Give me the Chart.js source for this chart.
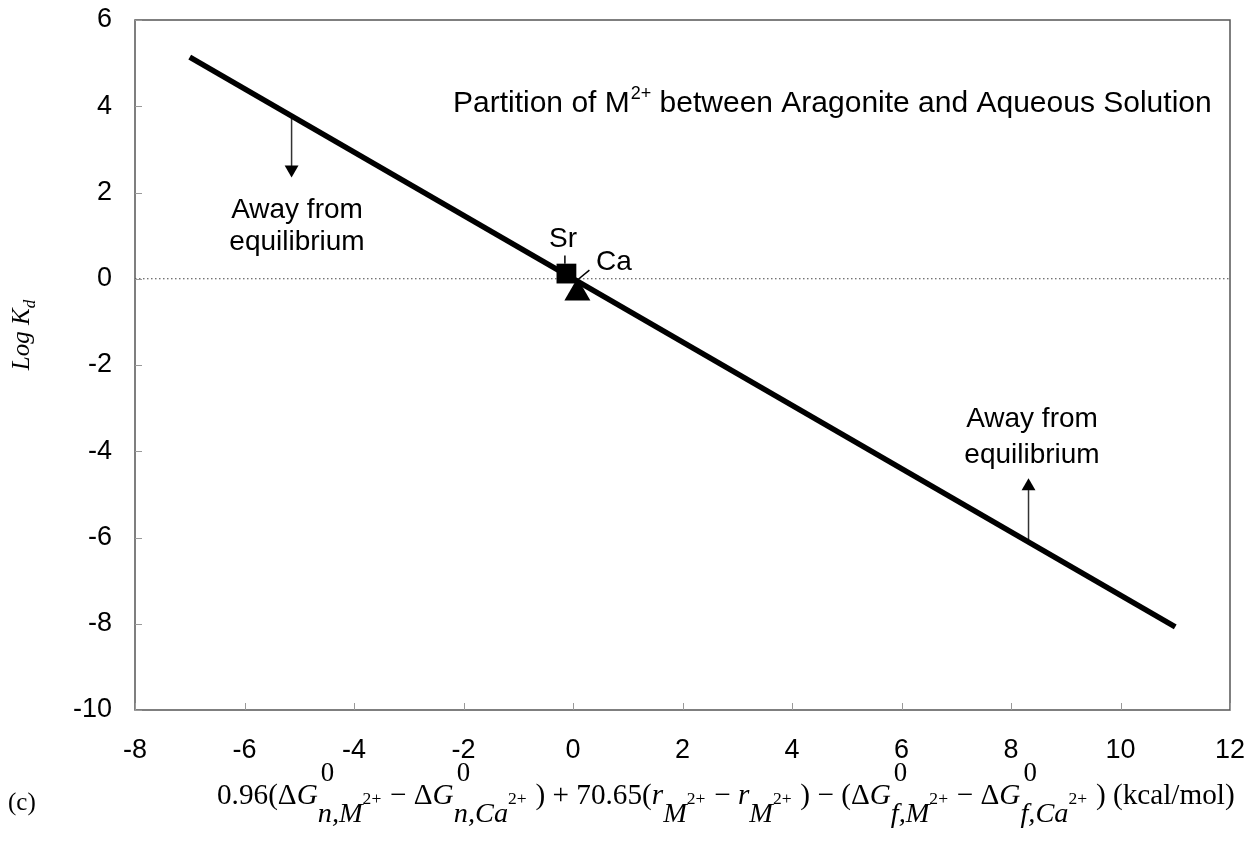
<!DOCTYPE html>
<html><head><meta charset="utf-8">
<script src="https://cdn.jsdelivr.net/npm/chart.js@4.4.1/dist/chart.umd.min.js"></script>
<style>html,body{margin:0;padding:0;background:#fff}#wrap{width:1246px;height:847px;position:relative}canvas{display:block}</style>
</head><body><div id="wrap"><canvas id="c" width="1246" height="847"></canvas></div>
<script>
// ---- data ----
const xTicks = [-8, -6, -4, -2, 0, 2, 4, 6, 8, 10, 12];
const yTicks = [-10, -8, -6, -4, -2, 0, 2, 4, 6];
const fitLineX = [-7, 11];
const fitLineY = [5.14, -8.07];
const zeroLineX = [-8, 12];
const zeroLineY = [0, 0];
const srPoint = [-0.12, 0.12];
const caPoint = [0.08, -0.33];
const srLeaderX = [-0.148, -0.148];
const srLeaderY = [0.54, 0.35];
const caLeaderX = [0.30, 0.08];
const caLeaderY = [0.20, -0.03];
const arrowDownX = [-5.14, -5.14];
const arrowDownY = [3.775, 2.6];
const arrowDownHead = [-5.14, 2.535];
const arrowUpX = [8.32, 8.32];
const arrowUpY = [-6.10, -4.9];
const arrowUpHead = [8.32, -4.81];

const SANS = '"Liberation Sans", Arial, sans-serif';
const SERIF = '"Liberation Serif", "Times New Roman", serif';

const pts = (xs, ys) => xs.map((x, i) => ({x, y: ys[i]}));
const lineDs = (xs, ys, o) => Object.assign({data: pts(xs, ys), showLine: true, pointRadius: 0, pointHoverRadius: 0, fill: false, borderCapStyle: 'butt'}, o);
const ptDs = (p, o) => Object.assign({data: [{x: p[0], y: p[1]}], showLine: false, borderWidth: 0, pointBorderWidth: 0, pointHoverRadius: 0}, o);

// ---- math label helpers ----
const mathFont = (it, sz) => (it ? 'italic ' : '') + sz + 'px ' + SERIF;
function drawMath(ctx, items, x0, y0, S, draw) {
  let x = x0;
  const run = (segs, xs) => {
    let xx = xs;
    for (const s of segs) {
      ctx.font = mathFont(s.it, s.k * S);
      if (draw) ctx.fillText(s.t, xx, y0 + s.dy * S);
      xx += ctx.measureText(s.t).width;
    }
    return xx;
  };
  for (const it of items) {
    if (it.main) x = run(it.main, x);
    else {
      const a = it.sup ? run(it.sup, x + 0.1 * S) : x;
      const b = it.sub ? run(it.sub, x) : x;
      x = Math.max(a, b) + 0.3 * S;
    }
  }
  return x - x0;
}
const M = (t, it) => ({t, it: !!it, k: 1, dy: 0});
const SUP0 = [{t: '0', it: false, k: 0.92, dy: -0.78}];
const SUB = (t) => [{t, it: true, k: 0.97, dy: 0.62}, {t: '2+', it: false, k: 0.6, dy: 0.0}];
const formula = [
  {main: [M('0.96(\u0394'), M('G', 1)]}, {sup: SUP0, sub: SUB('n,M')},
  {main: [M('\u2212 \u0394'), M('G', 1)]}, {sup: SUP0, sub: SUB('n,Ca')},
  {main: [M(') + 70.65('), M('r', 1)]}, {sub: SUB('M')},
  {main: [M('\u2212 '), M('r', 1)]}, {sub: SUB('M')},
  {main: [M(') \u2212 (\u0394'), M('G', 1)]}, {sup: SUP0, sub: SUB('f,M')},
  {main: [M('\u2212 \u0394'), M('G', 1)]}, {sup: SUP0, sub: SUB('f,Ca')},
  {main: [M(') (kcal/mol)')]}
];

const decor = {
  id: 'decor',
  afterDraw(chart) {
    const ctx = chart.ctx, a = chart.chartArea;
    const xs = chart.scales.x, ys = chart.scales.y;
    ctx.save();
    // frame
    ctx.strokeStyle = '#555';
    ctx.lineWidth = 1.5;
    ctx.strokeRect(a.left, a.top, a.right - a.left, a.bottom - a.top);
    // inner tick marks
    ctx.strokeStyle = '#999';
    ctx.lineWidth = 1;
    ctx.beginPath();
    for (const v of yTicks) { const p = Math.round(ys.getPixelForValue(v)) + 0.5; ctx.moveTo(a.left, p); ctx.lineTo(a.left + 7, p); }
    for (const v of xTicks) { const p = Math.round(xs.getPixelForValue(v)) + 0.5; ctx.moveTo(p, a.bottom); ctx.lineTo(p, a.bottom - 7); }
    ctx.stroke();

    ctx.fillStyle = '#000';
    ctx.textBaseline = 'alphabetic';
    // title with superscript
    ctx.textAlign = 'left';
    let tx = 453, ty = 112;
    ctx.font = '30px ' + SANS;
    ctx.fillText('Partition of M', tx, ty); tx += ctx.measureText('Partition of M').width + 1;
    ctx.font = '18px ' + SANS;
    ctx.fillText('2+', tx, ty - 13); tx += ctx.measureText('2+').width;
    ctx.font = '30px ' + SANS;
    ctx.fillText(' between Aragonite and Aqueous Solution', tx, ty);

    // annotations
    ctx.textAlign = 'center';
    ctx.font = '28px ' + SANS;
    ctx.fillText('Away from', 297, 218);
    ctx.fillText('equilibrium', 297, 250);
    ctx.fillText('Away from', 1032, 427);
    ctx.fillText('equilibrium', 1032, 463);
    ctx.fillText('Sr', 563, 247);
    ctx.fillText('Ca', 614, 270);

    // y axis title (rotated)
    ctx.save();
    ctx.translate(29, 335);
    ctx.rotate(-Math.PI / 2);
    ctx.textAlign = 'left';
    ctx.font = 'italic 25px ' + SERIF;
    const w1 = ctx.measureText('Log K').width;
    ctx.font = 'italic 17px ' + SERIF;
    const w2 = ctx.measureText('d').width;
    const sx = -(w1 + w2) / 2;
    ctx.font = 'italic 25px ' + SERIF;
    ctx.fillText('Log K', sx, 0);
    ctx.font = 'italic 17px ' + SERIF;
    ctx.fillText('d', sx + w1, 6);
    ctx.restore();

    // x axis title formula
    ctx.textAlign = 'left';
    const x0 = 217, x1 = 1235;
    const w0 = drawMath(ctx, formula, 0, 0, 23, false);
    const S = 23 * (x1 - x0) / w0;
    drawMath(ctx, formula, x0, 804, S, true);
    ctx.font = '25px ' + SERIF;
    ctx.fillText('(c)', 8, 810);
    ctx.restore();
  }
};

new Chart(document.getElementById('c'), {
  type: 'scatter',
  data: {
    datasets: [
      ptDs(srPoint, {pointStyle: 'rect', pointRadius: 14, backgroundColor: '#000', borderColor: '#000'}),
      ptDs(caPoint, {pointStyle: 'triangle', pointRadius: 15, backgroundColor: '#000', borderColor: '#000'}),
      ptDs(arrowDownHead, {pointStyle: 'triangle', rotation: 180, pointRadius: 8, backgroundColor: '#000', borderColor: '#000'}),
      ptDs(arrowUpHead, {pointStyle: 'triangle', rotation: 0, pointRadius: 8, backgroundColor: '#000', borderColor: '#000'}),
      lineDs(srLeaderX, srLeaderY, {borderColor: '#000', borderWidth: 1.5}),
      lineDs(caLeaderX, caLeaderY, {borderColor: '#000', borderWidth: 1.5}),
      lineDs(fitLineX, fitLineY, {borderColor: '#000', borderWidth: 5.5}),
      lineDs(arrowDownX, arrowDownY, {borderColor: '#333', borderWidth: 1.5}),
      lineDs(arrowUpX, arrowUpY, {borderColor: '#333', borderWidth: 1.5}),
      lineDs(zeroLineX, zeroLineY, {borderColor: '#444', borderWidth: 1, borderDash: [1.5, 2.5]})
    ]
  },
  options: {
    responsive: false,
    animation: false,
    devicePixelRatio: 1,
    layout: {padding: {top: 20, right: 16, left: 0, bottom: 0}},
    plugins: {legend: {display: false}, tooltip: {enabled: false}, title: {display: false}},
    events: [],
    scales: {
      x: {
        type: 'linear', min: -8, max: 12,
        afterBuildTicks: s => { s.ticks = xTicks.map(v => ({value: v})); },
        afterFit: s => { s.height = 137; s.paddingLeft = 0; s.paddingRight = 0; },
        ticks: {callback: v => String(v), color: '#000', padding: 24, maxRotation: 0, autoSkip: false, font: {family: SANS, size: 27}},
        grid: {display: false, drawTicks: false},
        border: {display: false}
      },
      y: {
        type: 'linear', min: -10, max: 6,
        afterBuildTicks: s => { s.ticks = yTicks.map(v => ({value: v})); },
        afterFit: s => { s.width = 135; s.paddingTop = 0; s.paddingBottom = 0; },
        ticks: {callback: v => String(v), color: '#000', padding: 23, autoSkip: false, font: {family: SANS, size: 27}},
        grid: {display: false, drawTicks: false},
        border: {display: false}
      }
    }
  },
  plugins: [decor]
});
</script>
</body></html>
